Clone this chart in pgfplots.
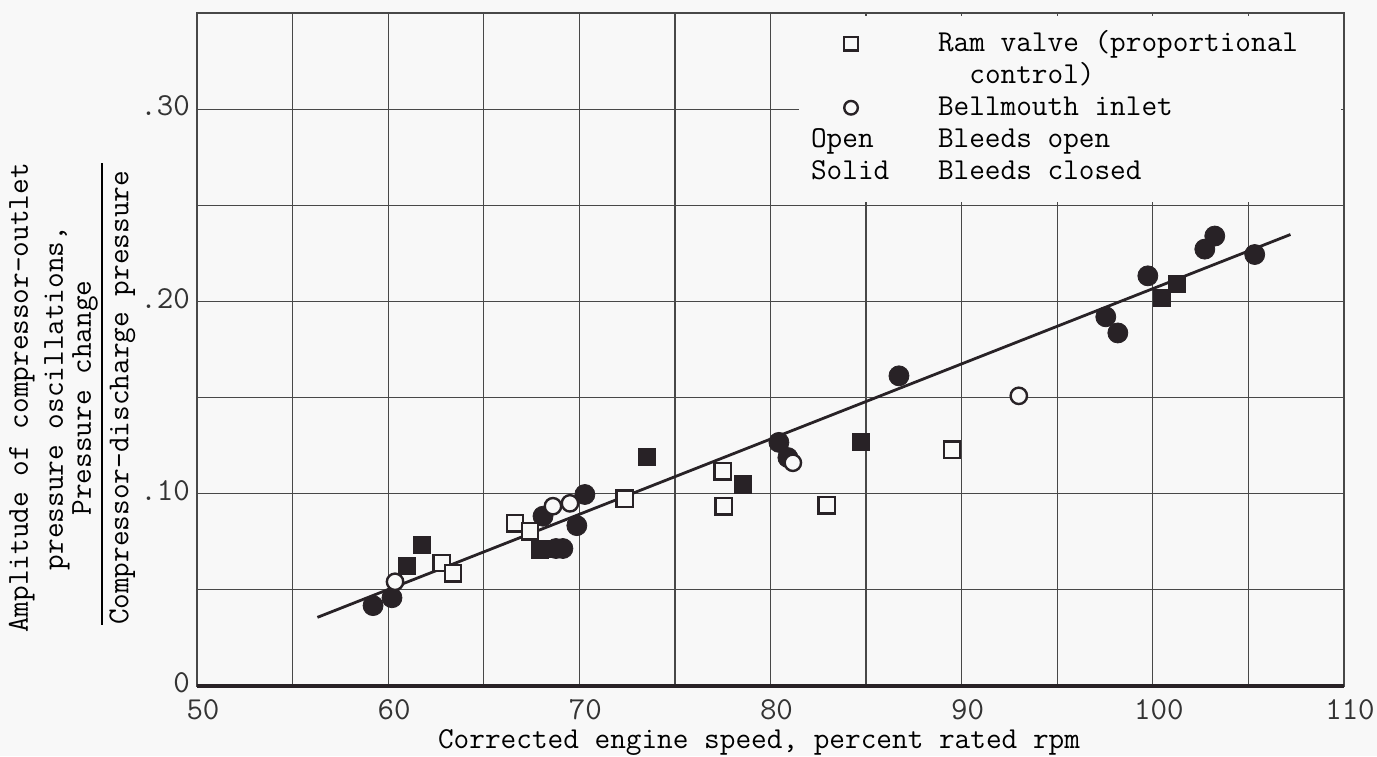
\documentclass[border=0pt]{standalone}
\usepackage{fontspec}
\usepackage{pgfplots}
\pgfplotsset{compat=1.18}
\renewcommand{\familydefault}{\ttdefault}
\definecolor{bg}{RGB}{248,248,248}
\definecolor{ink}{RGB}{40,34,38}
\definecolor{gridc}{RGB}{72,72,72}

\pgfplotstableread{
x y
62.81 0.0640
63.39 0.0587
66.63 0.0847
67.42 0.0805
72.38 0.0974
77.51 0.1117
77.56 0.0934
82.95 0.0940
89.49 0.1229
}\opensq

\pgfplotstableread{
x y
60.98 0.0626
61.77 0.0735
67.94 0.0710
68.30 0.0712
73.54 0.1193
78.56 0.1048
84.73 0.1269
100.47 0.2017
101.26 0.2090
}\solidsq

\pgfplotstableread{
x y
59.21 0.0418
60.20 0.0459
68.78 0.0715
69.14 0.0715
68.10 0.0883
69.87 0.0834
70.29 0.0996
80.44 0.1267
80.91 0.1188
86.72 0.1613
97.54 0.1920
98.17 0.1836
99.74 0.2133
102.72 0.2272
103.24 0.2340
105.33 0.2244
}\solidci

\pgfplotstableread{
x y
60.36 0.0542
68.62 0.0935
69.51 0.0950
81.17 0.1161
92.99 0.1509
}\openci

\begin{document}
\begin{tikzpicture}
\fill[bg] (-98.5pt,-35pt) rectangle (590pt,343pt);
\useasboundingbox (-98.5pt,-35pt) rectangle (590pt,343pt);
\begin{axis}[
  at={(0,0)}, anchor=south west,
  scale only axis, width=573.5pt, height=336.5pt,
  xmin=50, xmax=110, ymin=0, ymax=0.35,
  xtick={50,60,70,80,90,100,110},
  xticklabels={50,60,70,80,90,100,110},
  ytick={0,0.1,0.2,0.3},
  yticklabels={0,.10,.20,.30},
  minor xtick={55,65,75,85,95,105},
  minor ytick={0.05,0.15,0.25,0.35},
  grid=both,
  major grid style={gridc, line width=0.6pt},
  minor grid style={gridc, line width=0.6pt},
  major tick length=0pt, minor tick length=0pt,
  axis line style={gridc, line width=0.7pt},
  /pgf/number format/assume math mode=true,
  tick label style={font=\fontsize{16}{18}\selectfont, text=black!80},
  xticklabel style={yshift=-3pt, xshift=3pt},
  yticklabel style={yshift=1.5pt},
  xlabel={Corrected engine speed, percent rated rpm},
  xlabel style={font=\fontsize{15.2}{17.5}\selectfont, at={(axis description cs:0.49,0)}, anchor=base, yshift=-31pt, text=black},
  ylabel={\begin{tabular}{c}Amplitude of compressor-outlet\\
  pressure oscillations,\\[-3.5pt]
  Pressure change\\[0pt]
  \makebox[0pt][l]{\rule[12.8pt]{231pt}{0.7pt}}Compressor-discharge pressure\end{tabular}},
  ylabel style={font=\fontsize{15.2}{17.5}\selectfont, at={(axis description cs:-0.1097,0.428)}, anchor=center, rotate=0, text=black},
  clip=false,
]
\draw[ink, line width=2pt] (axis cs:50,0) -- (axis cs:110,0);
\addplot[ink, line width=1.4pt, no marks] coordinates {(56.3,0.0357) (107.2,0.2348)};
\addplot[only marks, mark=square*, mark size=4.3pt, draw=ink, fill=ink] table[x=x,y=y] {\solidsq};
\addplot[only marks, mark=*, mark size=5pt, draw=ink, fill=ink] table[x=x,y=y] {\solidci};
\addplot[only marks, mark=square*, mark size=4.1pt, draw=ink, fill=bg, mark options={line width=1.2pt}] table[x=x,y=y] {\opensq};
\addplot[only marks, mark=*, mark size=4.1pt, draw=ink, fill=bg, mark options={line width=1.2pt}] table[x=x,y=y] {\openci};
\fill[bg] (axis cs:81.5,0.2515) rectangle (axis cs:109.85,0.3485);
\node[anchor=north west, inner sep=0pt, font=\fontsize{15.2}{16}\selectfont, text=black] at (axis cs:82.1,0.3417) {%
\begin{tabular}{@{}l@{\hspace{23.5pt}}l@{}}
\makebox[40pt][c]{\tikz[baseline={(0,-4pt)}]\draw[ink, line width=1.2pt] (-3.4pt,-3.4pt) rectangle (3.4pt,3.4pt);} & Ram valve (proportional\\
 & \ \ control)\\
\makebox[40pt][c]{\tikz[baseline={(0,-4pt)}]\draw[ink, line width=1.2pt] (0,0) circle (3.4pt);} & Bellmouth inlet\\
Open & Bleeds open\\
Solid & Bleeds closed
\end{tabular}};
\end{axis}
\end{tikzpicture}
\end{document}
